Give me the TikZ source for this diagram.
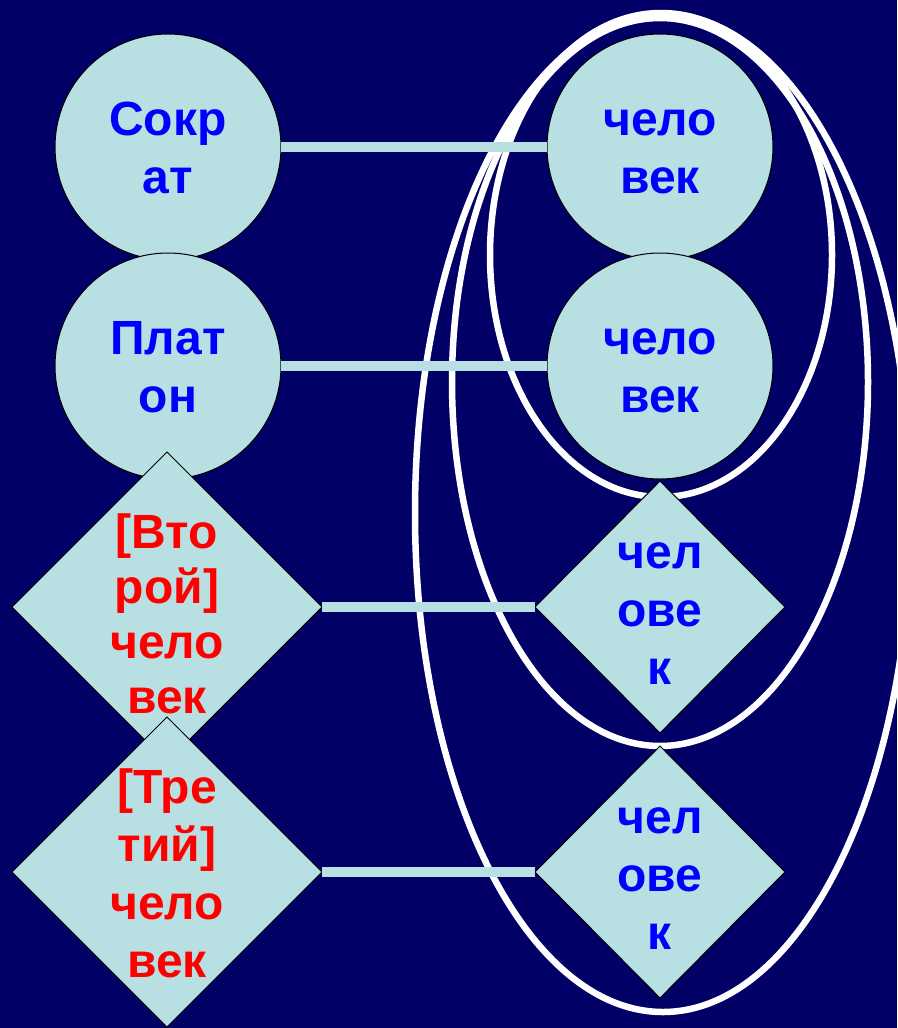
\documentclass[tikz,border=0pt]{standalone}
\usepackage{fontspec}
\setmainfont{Liberation Sans}
\usetikzlibrary{shapes.geometric}
\definecolor{bgnavy}{HTML}{000066}
\definecolor{pale}{HTML}{B8DFE2}
\definecolor{txtblue}{HTML}{0000FF}
\definecolor{txtred}{HTML}{FF0000}
\newcommand\capstrut{\rule{0pt}{34.5pt}}
\begin{document}
\begin{tikzpicture}[x=1pt,y=-1pt,
  shapebase/.style={draw=black,line width=1pt,fill=pale,inner sep=0pt,outer sep=0pt},
  circ/.style={shapebase,circle,minimum size=226pt},
  bigdia/.style={shapebase,diamond,minimum width=310pt,minimum height=310pt},
  smalldia/.style={shapebase,diamond,minimum width=250pt,minimum height=252pt},
  link/.style={draw=pale,line width=10pt},
  loopline/.style={draw=white,line width=6.5pt},
  lbl/.style={inner sep=0pt,outer sep=0pt,align=center,font=\fontsize{48}{58}\selectfont\bfseries},
  lbltight/.style={lbl,font=\fontsize{48}{55}\selectfont\bfseries},
]
\useasboundingbox (0,0) rectangle (897,1028);
\fill[bgnavy] (0,0) rectangle (897,1028);

% grouping ellipses
\draw[loopline] (663,513) ellipse [x radius=248pt, y radius=499pt];
\draw[loopline] (660,382) ellipse [x radius=208pt, y radius=364pt];
\draw[loopline] (661,255) ellipse [x radius=171pt, y radius=242pt];

% shapes
\node[circ] (s1) at (168,147) {};
\node[circ] (s2) at (168,366) {};
\node[bigdia] (d2) at (167,607) {};
\node[bigdia] (d3) at (167,872) {};
\node[circ] (r1) at (660,147) {};
\node[circ] (r2) at (660,366) {};
\node[smalldia] (rd3) at (660,607) {};
\node[smalldia] (rd4) at (660,872) {};

% connectors
\draw[link] (s1) -- (r1);
\draw[link] (s2) -- (r2);
\draw[link] (d2) -- (rd3);
\draw[link] (d3) -- (rd4);

% labels
\node[lbl,text=txtblue] (ts1) at (s1) {\capstrut Сокр\\ат};
\node[lbl,text=txtblue] (ts2) at (s2) {\capstrut Плат\\он};
\node[lbl,text=txtblue] (tr1) at (r1) {\capstrut чело\\век};
\node[lbl,text=txtblue] (tr2) at (r2) {\capstrut чело\\век};
\node[lbltight,text=txtred,yshift=-6.5pt] (td2) at (d2) {\capstrut [Вто\\рой]\\чело\\век};
\node[lbl,text=txtred,yshift=-1.5pt] (td3) at (d3) {\capstrut [Тре\\тий]\\чело\\век};
\node[lbl,text=txtblue,yshift=-2pt] (trd3) at (rd3) {\capstrut чел\\ове\\к};
\node[lbl,text=txtblue,yshift=-2pt] (trd4) at (rd4) {\capstrut чел\\ове\\к};
\end{tikzpicture}
\end{document}
